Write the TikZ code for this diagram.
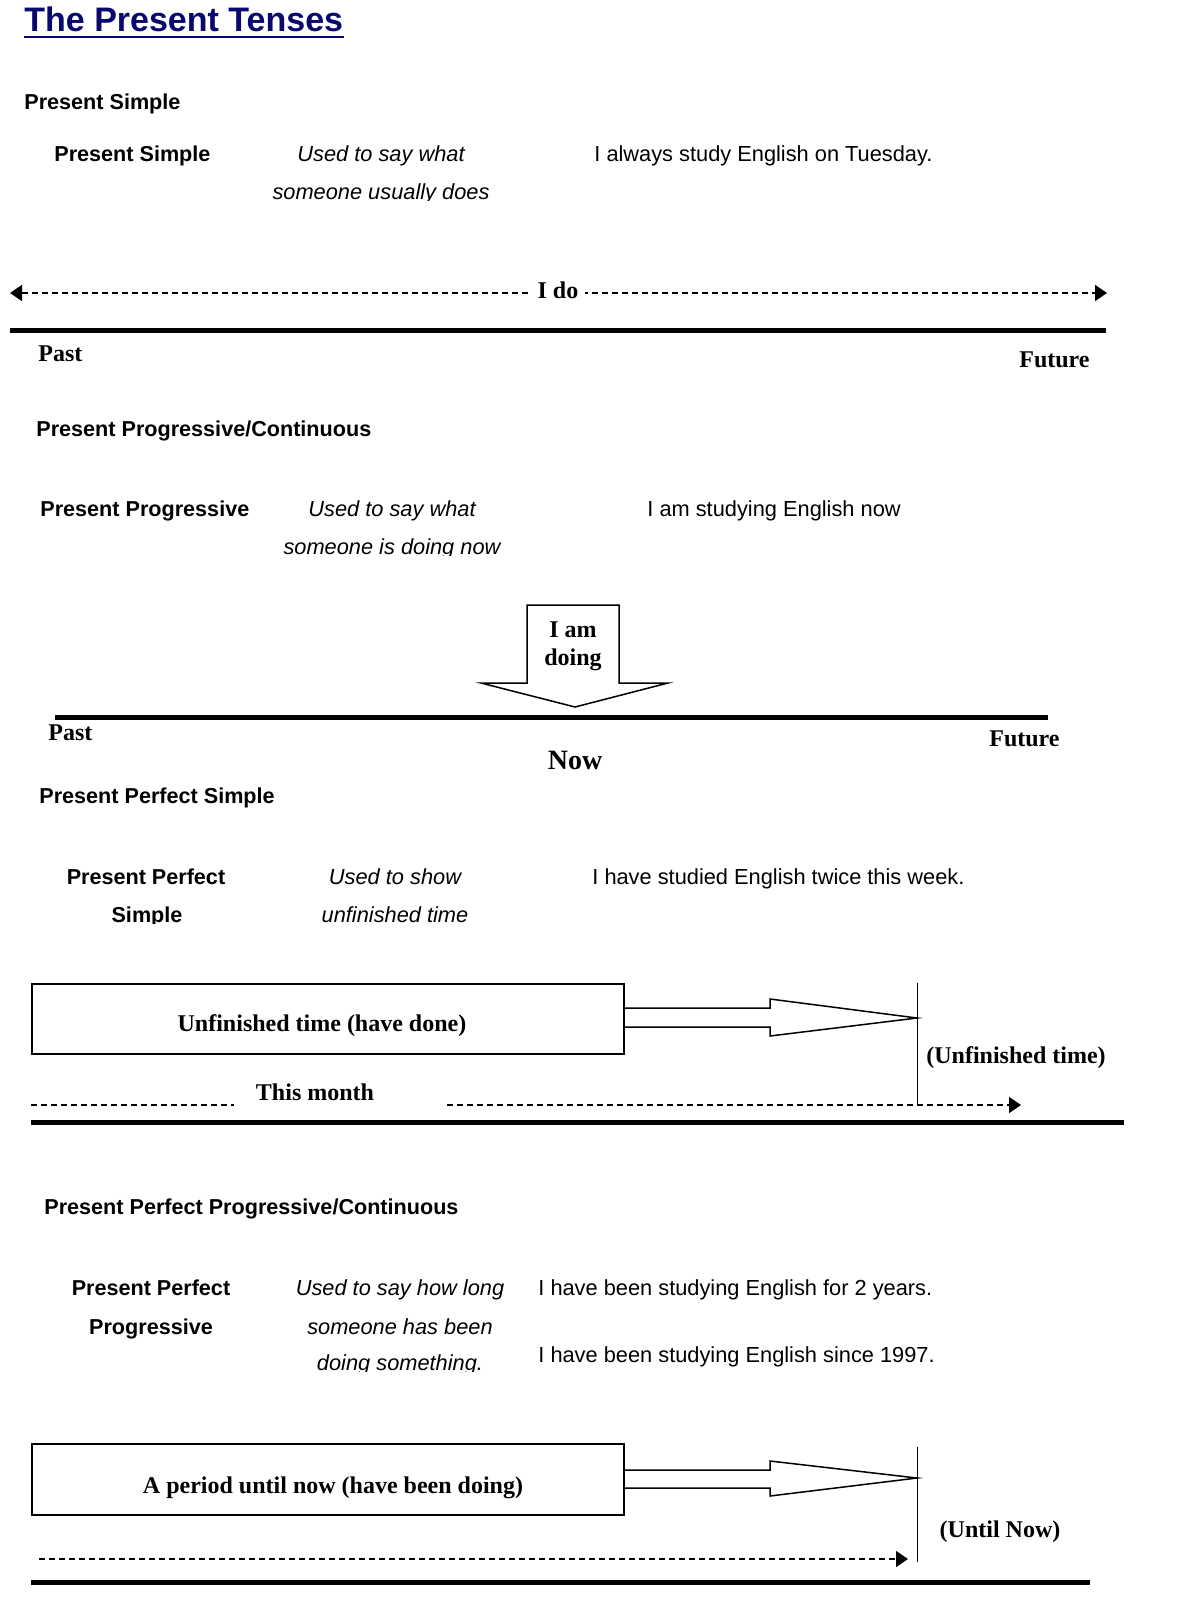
\documentclass[tikz,border=0pt]{standalone}
\usepackage{fontspec}
\setmainfont{Liberation Sans}
\newfontfamily\tnr{Liberation Serif}
\usetikzlibrary{arrows.meta}
\definecolor{titleblue}{RGB}{8,8,110}
\begin{document}
\begin{tikzpicture}[x=0.5pt,y=-0.5pt,
 txt/.style={inner sep=0pt, font=\fontsize{10.9}{12}\selectfont},
 txtb/.style={inner sep=0pt, font=\fontsize{10.8}{12}\selectfont\bfseries},
 txti/.style={inner sep=0pt, font=\fontsize{10.9}{12}\selectfont\itshape},
 lab/.style={inner sep=0pt, font=\fontsize{12}{14}\selectfont\tnr\bfseries},
 thickline/.style={line width=2.5pt},
 dashline/.style={line width=0.75pt, dash pattern=on 3.2pt off 1.8pt},
 tipr/.style={-{Triangle[length=6pt,width=8pt]}},
 tipb/.style={{Triangle[length=6pt,width=8pt]}-{Triangle[length=6pt,width=8pt]}},
 blk/.style={line width=0.75pt, line join=miter},
 vline/.style={line width=0.5pt},
 boxnode/.style={draw, line width=0.75pt, inner sep=0pt, anchor=north west, minimum width=296pt}
]
\useasboundingbox[fill=white] (0,0) rectangle (1182,1600);

% Title
\node[anchor=base west, inner sep=0pt, font=\fontsize{17}{19}\selectfont\bfseries, text=titleblue] (title) at (24,32) {The Present Tenses};
\draw[titleblue, line width=1.2pt] ([yshift=-2.6pt]title.base west) -- ([yshift=-2.6pt]title.base east);

% ---------- Present Simple ----------
\node[txtb, anchor=base west] (h1) at (24,110) {Present Simple};
\node[txtb, anchor=base west] (n1) at (54,162) {Present Simple};
\node[txti, anchor=base] (d1a) at (381,162) {Used to say what};
\begin{scope}
\clip (240,175) rectangle (530,200);
\node[txti, anchor=base] (d1b) at (381,199) {someone usually does};
\end{scope}
\node[txt, anchor=base west] (e1) at (594,162) {I always study English on Tuesday.};

\coordinate (l1a) at (10,293);
\coordinate (l1b) at (1107,293);
\draw[dashline, tipb] (l1a) -- (l1b);
\node[lab, anchor=base, fill=white, inner xsep=3.5pt, inner ysep=1pt] (ido) at (558,298) {I do};
\coordinate (t1a) at (10,330);
\coordinate (t1b) at (1106,330);
\draw[thickline] (t1a) -- (t1b);
\node[lab, anchor=base west] (past1) at (38,361) {Past};
\node[lab, anchor=base east] (fut1) at (1090,367) {Future};

% ---------- Present Progressive ----------
\node[txtb, anchor=base west] (h2) at (36,436) {Present Progressive/Continuous};
\node[txtb, anchor=base west] (n2) at (40,516) {Present Progressive};
\node[txti, anchor=base] (d2a) at (392,516) {Used to say what};
\begin{scope}
\clip (250,530) rectangle (540,555);
\node[txti, anchor=base] (d2b) at (392,554) {someone is doing now};
\end{scope}
\node[txt, anchor=base west] (e2) at (647,516) {I am studying English now};

\draw[blk, fill=white] (527,605) -- (619,605) -- (619,683) -- (668,683) -- (575,707) -- (481,683) -- (527,683) -- cycle;
\node[lab, anchor=base] (iam) at (573,637) {I am};
\node[lab, anchor=base] (doing) at (573,665) {doing};
\coordinate (t2a) at (55,717);
\coordinate (t2b) at (1048,717);
\draw[thickline] (t2a) -- (t2b);
\node[lab, anchor=base west] (past2) at (48,740) {Past};
\node[lab, anchor=base east] (fut2) at (1060,746) {Future};
\node[lab, anchor=base, font=\fontsize{14}{16}\selectfont\tnr\bfseries] (now) at (575,769) {Now};

% ---------- Present Perfect Simple ----------
\node[txtb, anchor=base west] (h3) at (39,803) {Present Perfect Simple};
\node[txtb, anchor=base] (n3a) at (146,884) {Present Perfect};
\begin{scope}
\clip (60,898) rectangle (240,923);
\node[txtb, anchor=base] (n3b) at (147,922) {Simple};
\end{scope}
\node[txti, anchor=base] (d3a) at (395,884) {Used to show};
\begin{scope}
\clip (280,898) rectangle (520,923);
\node[txti, anchor=base] (d3b) at (395,922) {unfinished time};
\end{scope}
\node[txt, anchor=base west] (e3) at (592,884) {I have studied English twice this week.};

\node[boxnode, minimum height=35pt] (box3) at (31,983) {};
\node[lab, anchor=base] (box3t) at (322,1031) {Unfinished time (have done)};
\draw[blk] (box3.east |- 0,1008) -- (770,1008) -- (770,999) -- (917,1018) -- (770,1036) -- (770,1027) -- (box3.east |- 0,1027);
\coordinate (v3a) at (917,983);
\coordinate (v3b) at (917,1105);
\draw[vline] (v3a) -- (v3b);
\node[lab, anchor=base] (unf) at (1016,1063) {(Unfinished time)};
\node[lab, anchor=base] (month) at (315,1100) {This month};
\coordinate (d3s) at (31,1105);
\coordinate (d3e) at (234,1105);
\coordinate (d3f) at (447,1105);
\coordinate (d3g) at (1021,1105);
\draw[dashline] (d3s) -- (d3e);
\draw[dashline, tipr] (d3f) -- (d3g);
\coordinate (t3a) at (31,1122);
\coordinate (t3b) at (1124,1122);
\draw[thickline] (t3a) -- (t3b);

% ---------- Present Perfect Progressive ----------
\node[txtb, anchor=base west] (h4) at (44,1214) {Present Perfect Progressive/Continuous};
\node[txtb, anchor=base] (n4a) at (151,1295) {Present Perfect};
\node[txtb, anchor=base] (n4b) at (151,1334) {Progressive};
\node[txti, anchor=base] (d4a) at (400,1295) {Used to say how long};
\node[txti, anchor=base] (d4b) at (400,1334) {someone has been};
\begin{scope}
\clip (280,1348) rectangle (530,1371);
\node[txti, anchor=base] (d4c) at (400,1370) {doing something.};
\end{scope}
\node[txt, anchor=base west] (e4a) at (538,1295) {I have been studying English for 2 years.};
\node[txt, anchor=base west] (e4b) at (538,1362) {I have been studying English since 1997.};

\node[boxnode, minimum height=35.5pt] (box4) at (31,1443) {};
\node[lab, anchor=base] (box4t) at (333,1493) {A period until now (have been doing)};
\draw[blk] (box4.east |- 0,1470) -- (770,1470) -- (770,1461) -- (917,1478) -- (770,1496) -- (770,1488) -- (box4.east |- 0,1488);
\coordinate (v4a) at (917,1447);
\coordinate (v4b) at (917,1562);
\draw[vline] (v4a) -- (v4b);
\node[lab, anchor=base] (until) at (1000,1537) {(Until Now)};
\coordinate (d4s) at (39,1559);
\coordinate (d4e) at (908,1559);
\draw[dashline, tipr] (d4s) -- (d4e);
\coordinate (t4a) at (31,1582);
\coordinate (t4b) at (1090,1582);
\draw[thickline] (t4a) -- (t4b);
\end{tikzpicture}
\end{document}
